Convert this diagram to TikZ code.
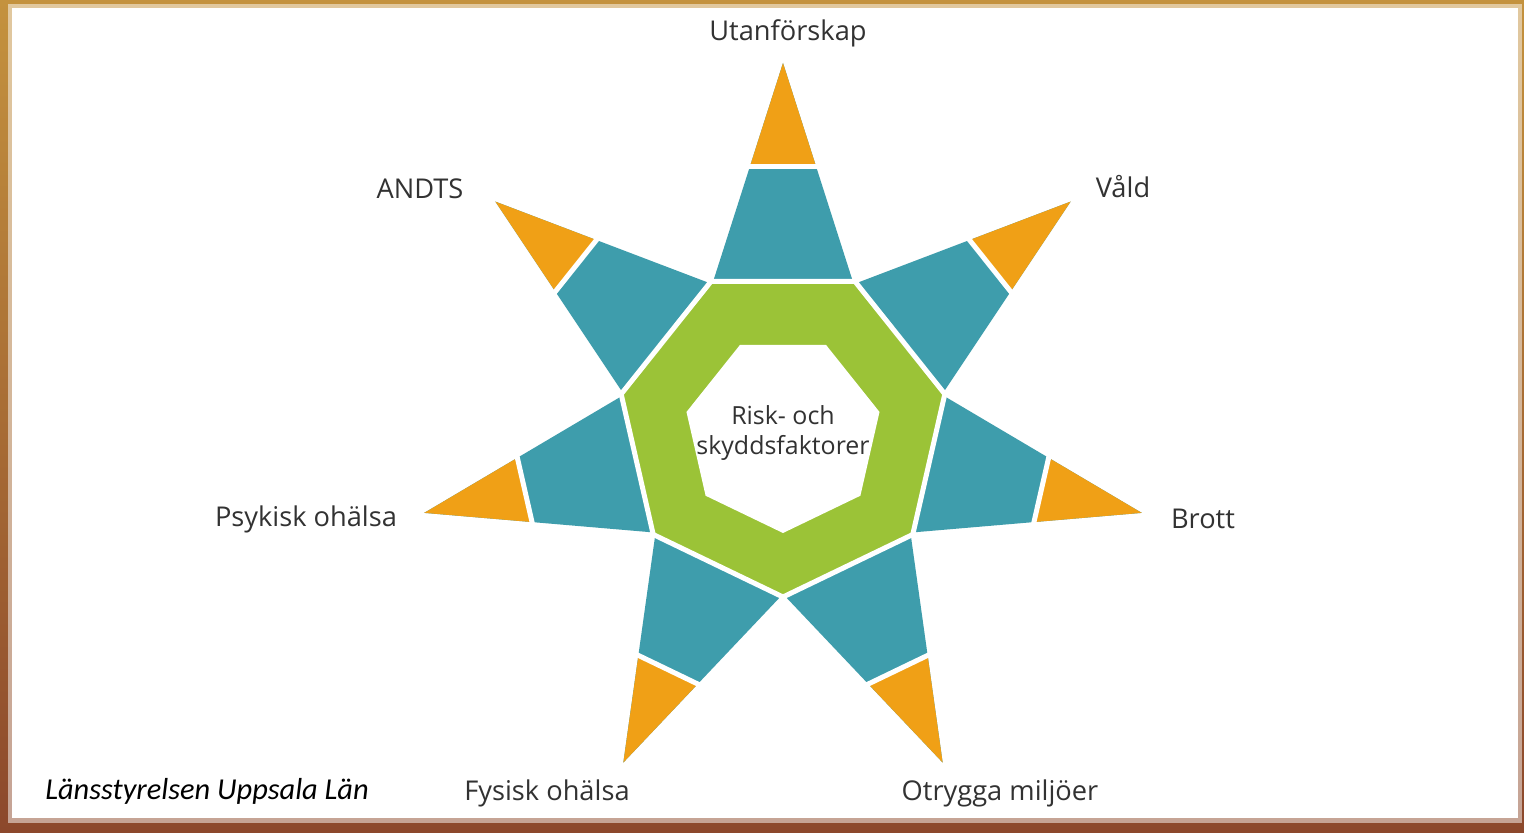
\documentclass[tikz,border=0pt]{standalone}
\usepackage{fontspec}
\setmainfont{Open Sans}
\newfontfamily\footfont{Carlito}
\usetikzlibrary{calc}
\definecolor{starteal}{RGB}{62,157,172}
\definecolor{starorange}{RGB}{240,160,22}
\definecolor{stargreen}{RGB}{155,195,55}
\definecolor{labelgray}{RGB}{50,50,50}
\definecolor{frametop}{RGB}{196,146,62}
\definecolor{framebottom}{RGB}{140,72,44}
\tikzset{
  risklabel/.style={text=labelgray,font=\fontsize{15.5}{18}\selectfont,inner sep=0pt},
  whitegap/.style={draw=white,line width=0.1cm,line join=miter}
}
\begin{document}
\begin{tikzpicture}[x=0.02cm,y=0.02cm]
      % Frame
      \shade[top color=frametop,bottom color=framebottom] (-783,-401) rectangle (741,431);
      \fill[white,opacity=0.5] (-775,-392) rectangle (739,427);
      \fill[white] (-771,-387) rectangle (735,423);
      % Star points: teal part and orange tip
      \foreach \k in {0,...,6} {
        \pgfmathsetmacro{\ang}{90-\k*51.4286}
        \pgfmathsetmacro{\angl}{\ang+25.7143}
        \pgfmathsetmacro{\angr}{\ang-25.7143}
        \coordinate (b1\k) at (\angl:163);
        \coordinate (b2\k) at (\angr:163);
        \coordinate (tip\k) at (\ang:368);
        \coordinate (s1\k) at ($(b1\k)!0.534!(tip\k)$);
        \coordinate (s2\k) at ($(b2\k)!0.534!(tip\k)$);
        \fill[starteal] (b1\k) -- (tip\k) -- (b2\k) -- cycle;
        \fill[starorange] (s1\k) -- (tip\k) -- (s2\k) -- cycle;
        \draw[whitegap] ($(s1\k)!-0.2!(s2\k)$) -- ($(s2\k)!-0.2!(s1\k)$);
      }
      % Ring: green heptagon with white hole
      \foreach \k in {0,...,6} {
        \pgfmathsetmacro{\ang}{64.2857-\k*51.4286}
        \coordinate (h\k) at (\ang:166);
        \coordinate (w\k) at ($(0,-3)+(\ang:99)$);
      }
      \draw[whitegap,fill=stargreen] (h0) -- (h1) -- (h2) -- (h3) -- (h4) -- (h5) -- (h6) -- cycle;
      \fill[white] (w0) -- (w1) -- (w2) -- (w3) -- (w4) -- (w5) -- (w6) -- cycle;
      % Nodes: labels
      \node[risklabel,align=center,font=\fontsize{14.2}{17.6}\selectfont] (risk) at (0,-2) {Risk- och\\skyddsfaktorer};
      \node[risklabel] (utan) at (5,398) {Utanförskap};
      \node[risklabel] (vald) at (340,244) {Våld};
      \node[risklabel] (brott) at (420,-88) {Brott};
      \node[risklabel] (otrygg) at (217,-362) {Otrygga miljöer};
      \node[risklabel] (fysisk) at (-236,-362) {Fysisk ohälsa};
      \node[risklabel] (psykisk) at (-477,-88) {Psykisk ohälsa};
      \node[risklabel] (andts) at (-363,242) {ANDTS};
      % Source
      \node[anchor=west,inner sep=0pt,font=\footfont\itshape\fontsize{17.3}{20}\selectfont] (source) at (-738,-360) {Länsstyrelsen Uppsala Län};
    \end{tikzpicture}
\end{document}
